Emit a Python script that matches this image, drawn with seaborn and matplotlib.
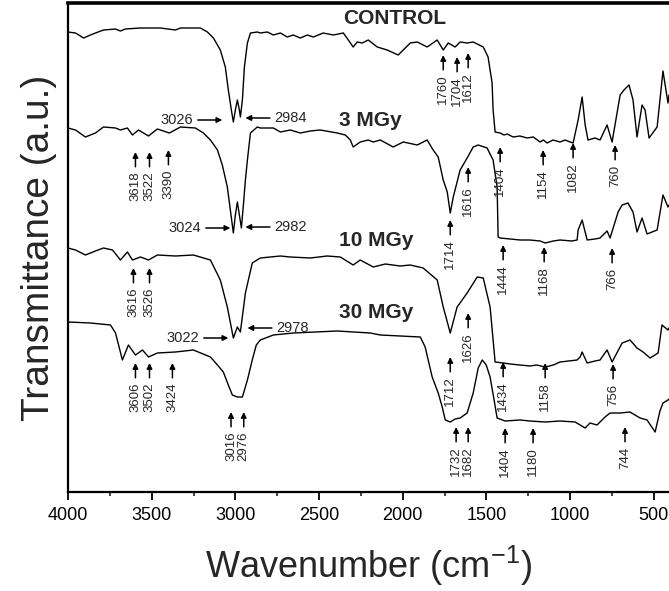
import matplotlib
matplotlib.use('Agg')
import matplotlib.pyplot as plt
import seaborn as sns
import pandas as pd
from matplotlib.ticker import MultipleLocator

# spectra (transmittance in arbitrary units)
wn_control = [4000, 3955, 3907, 3866, 3836, 3788, 3716, 3687, 3657, 3567, 3448, 3358, 3328, 3209,
              3167, 3131, 3090, 3060, 3042, 3024, 3012, 3000, 2988, 2976, 2970, 2958, 2946, 2928,
              2910, 2869, 2851, 2809, 2773, 2731, 2690, 2654, 2612, 2570, 2534, 2475, 2415, 2355,
              2325, 2296, 2272, 2242, 2206, 2152, 2093, 2027, 1955, 1913, 1854, 1794, 1758, 1728,
              1687, 1657, 1615, 1579, 1519, 1490, 1466, 1460, 1448, 1418, 1395, 1376, 1340, 1300,
              1257, 1220, 1179, 1160, 1137, 1102, 1060, 1030, 1000, 982, 952, 928, 910, 893, 851,
              821, 779, 749, 701, 678, 648, 624, 600, 570, 552, 528, 480, 445, 415, 409]
t_control = [460, 459, 454, 457, 459, 462, 463, 461, 463, 464, 464, 462, 464, 464,
             460, 454, 442, 425, 402, 382, 370, 382, 392, 382, 375, 392, 425, 449,
             459, 460, 459, 460, 457, 459, 455, 457, 454, 457, 455, 459, 457, 459,
             452, 445, 450, 449, 452, 445, 442, 437, 449, 450, 445, 452, 442, 449,
             445, 450, 449, 450, 445, 435, 409, 382, 360, 359, 357, 358, 355, 356,
             354, 355, 350, 352, 349, 352, 350, 352, 350, 349, 372, 395, 367, 352, 354,
             352, 367, 350, 397, 402, 407, 392, 355, 387, 382, 354, 365, 421, 389, 397]

wn_3mgy = [4000, 3955, 3896, 3836, 3788, 3716, 3687, 3645, 3615, 3579, 3519, 3466, 3394, 3328,
           3239, 3191, 3149, 3107, 3078, 3048, 3030, 3012, 3000, 2988, 2976, 2964, 2952, 2940,
           2928, 2910, 2869, 2851, 2773, 2731, 2672, 2612, 2552, 2493, 2391, 2343, 2313, 2296,
           2254, 2206, 2176, 2134, 2057, 1997, 1913, 1854, 1818, 1788, 1758, 1734, 1716, 1698,
           1657, 1615, 1579, 1549, 1496, 1460, 1436, 1430, 1418, 1358, 1299, 1240, 1179, 1149,
           1100, 1060, 990, 958, 952, 928, 898, 851, 821, 779, 761, 713, 689, 654, 624, 600,
           570, 540, 480, 445, 415, 409]
t_3mgy = [364, 362, 355, 359, 365, 364, 362, 364, 357, 362, 356, 363, 359, 365,
          364, 359, 352, 342, 327, 305, 282, 259, 277, 290, 277, 264, 287, 312,
          332, 359, 365, 364, 364, 360, 362, 359, 361, 362, 359, 357, 352, 345,
          350, 352, 350, 352, 345, 350, 347, 352, 342, 335, 312, 300, 279, 295,
          322, 334, 345, 347, 344, 332, 305, 255, 254, 253, 252, 252, 251, 249,
          251, 252, 251, 252, 262, 272, 252, 253, 254, 261, 254, 280, 287, 289, 280, 260,
          274, 258, 262, 297, 285, 287]

wn_10mgy = [4000, 3955, 3896, 3836, 3788, 3734, 3687, 3645, 3615, 3567, 3519, 3466, 3358, 3251,
            3149, 3090, 3048, 3012, 2988, 2970, 2940, 2899, 2851, 2731, 2672, 2552, 2451, 2373,
            2296, 2254, 2176, 2104, 2015, 1955, 1878, 1794, 1758, 1716, 1675, 1615, 1555, 1519,
            1478, 1448, 1400, 1358, 1300, 1239, 1200, 1149, 1100, 1060, 958, 940, 928, 898,
            851, 821, 779, 749, 689, 642, 600, 564, 522, 474, 451, 415, 409]
t_10mgy = [244, 242, 237, 241, 244, 242, 232, 240, 232, 235, 232, 237, 236, 237,
           232, 212, 185, 154, 165, 160, 199, 229, 234, 236, 235, 234, 236, 235,
           227, 232, 225, 228, 226, 227, 224, 212, 185, 159, 185, 199, 215, 214,
           185, 130, 129, 128, 127, 126, 127, 125, 127, 130, 132, 135, 140, 129,
           131, 132, 142, 130, 149, 152, 144, 140, 134, 139, 167, 162, 164]

wn_30mgy = [4000, 3866, 3746, 3716, 3675, 3639, 3597, 3555, 3519, 3466, 3358, 3251, 3149, 3107,
            3072, 3042, 3018, 2988, 2958, 2928, 2899, 2875, 2851, 2773, 2654, 2391, 2194, 2134,
            1895, 1866, 1824, 1788, 1764, 1746, 1716, 1687, 1657, 1615, 1579, 1549, 1525, 1501,
            1478, 1454, 1436, 1388, 1300, 1239, 1150, 1060, 970, 910, 881, 839, 791, 761, 701,
            642, 582, 540, 492, 463, 445, 415, 409]
t_30mgy = [170, 169, 167, 159, 132, 147, 137, 142, 135, 139, 140, 142, 135, 127,
           120, 107, 97, 95, 95, 112, 132, 147, 152, 157, 159, 161, 159, 157,
           155, 145, 115, 99, 85, 72, 70, 73, 74, 79, 99, 124, 132, 127,
           115, 92, 74, 71, 72, 71, 70, 71, 70, 64, 69, 67, 75, 79, 79,
           80, 74, 72, 60, 81, 89, 92, 93]

samples = ['CONTROL', '3 MGy', '10 MGy', '30 MGy']
sample_label_pos = [(2051, 474), (2194, 372), (2158, 252), (2158, 179)]

# peak marks: label, arrow x (where it sits in the picture), arrow tip height
up_labels = ['1760', '1704', '1612',
             '3618', '3522', '3390', '1714', '1616', '1404', '1154', '1082', '760',
             '3616', '3526', '1444', '1168', '766', '1626',
             '3606', '3502', '3424', '3016', '2976', '1712', '1434', '1158', '756',
             '1732', '1682', '1404', '1180', '744']
up_x = [1758, 1675, 1609,
        3597, 3513, 3400, 1716, 1609, 1418, 1161, 982, 731,
        3609, 3513, 1400, 1155, 749, 1609,
        3597, 3513, 3376, 3026, 2950, 1716, 1400, 1149, 743,
        1681, 1609, 1388, 1221, 672]
up_y = [437, 435, 439,
        340, 340, 342, 272, 325, 345, 342, 349, 347,
        224, 224, 247, 245, 244, 179,
        129, 129, 129, 80, 80, 135, 130, 129, 128,
        65, 65, 64, 64, 65]

side_labels = ['3026', '2984', '3024', '2982', '3022', '2978']
side_x = [3078, 2940, 3030, 2940, 3042, 2928]
side_y = [372, 374, 264, 265, 154, 164]
side_dir = [-1, 1, -1, 1, -1, 1]


def build_frame():
    parts = []
    for name, wn, t in zip(samples,
                           [wn_control, wn_3mgy, wn_10mgy, wn_30mgy],
                           [t_control, t_3mgy, t_10mgy, t_30mgy]):
        parts.append(pd.DataFrame({'Wavenumber': wn, 'Transmittance': t, 'Sample': name}))
    return pd.concat(parts, ignore_index=True)


def main():
    sns.set_theme(style='ticks')
    plt.rcParams['font.family'] = ['Liberation Sans', 'DejaVu Sans']
    plt.rcParams['mathtext.fontset'] = 'custom'
    plt.rcParams['mathtext.rm'] = 'Liberation Sans'
    plt.rcParams['mathtext.it'] = 'Liberation Sans'

    df = build_frame()
    fig = plt.figure(figsize=(6.69, 5.91), dpi=100)
    ax = fig.add_axes([68 / 669, 99 / 591, 601 / 669, 489 / 591])

    sns.lineplot(data=df, x='Wavenumber', y='Transmittance', hue='Sample', units='Sample',
                 estimator=None, palette=['black'] * 4, lw=1.0, legend=False, ax=ax)

    ax.set_xlim(4000, 409)
    ax.set_ylim(0, 489)
    ax.xaxis.set_major_locator(MultipleLocator(500))
    ax.xaxis.set_minor_locator(MultipleLocator(250))
    ax.set_yticks([])
    ax.tick_params(axis='x', which='major', direction='out', length=6, width=1.3,
                   labelsize=13, pad=5, colors='black')
    ax.tick_params(axis='x', which='minor', direction='out', length=3, width=1.2)
    for side in ['left', 'bottom']:
        ax.spines[side].set_linewidth(1.6)
        ax.spines[side].set_color('black')
    ax.spines['top'].set_linewidth(2.6)
    ax.spines['top'].set_color('black')
    ax.spines['right'].set_visible(False)

    ax.set_xlabel('Wavenumber (cm$^{\\mathrm{-1}}$)', fontsize=26, labelpad=14)
    ax.set_ylabel('Transmittance (a.u.)', fontsize=28, labelpad=8)

    for name, (x, y) in zip(samples, sample_label_pos):
        ax.text(x, y, name, fontsize=15, fontweight='bold', ha='center', va='center')

    arrow = dict(arrowstyle='-|>', color='black', lw=1.1, mutation_scale=8, shrinkA=1, shrinkB=0)
    for lab, x, y in zip(up_labels, up_x, up_y):
        ax.annotate(lab, xy=(x, y), xytext=(0, -14), textcoords='offset points',
                    rotation=90, ha='center', va='top', fontsize=9.5, arrowprops=arrow)
    for lab, x, y, d in zip(side_labels, side_x, side_y, side_dir):
        ax.annotate(lab, xy=(x, y), xytext=(21 * d, 0), textcoords='offset points',
                    ha='left' if d > 0 else 'right', va='center', fontsize=10.5, arrowprops=arrow)

    fig.savefig('out.png', dpi=100)
    plt.close(fig)


if __name__ == '__main__':
    main()
